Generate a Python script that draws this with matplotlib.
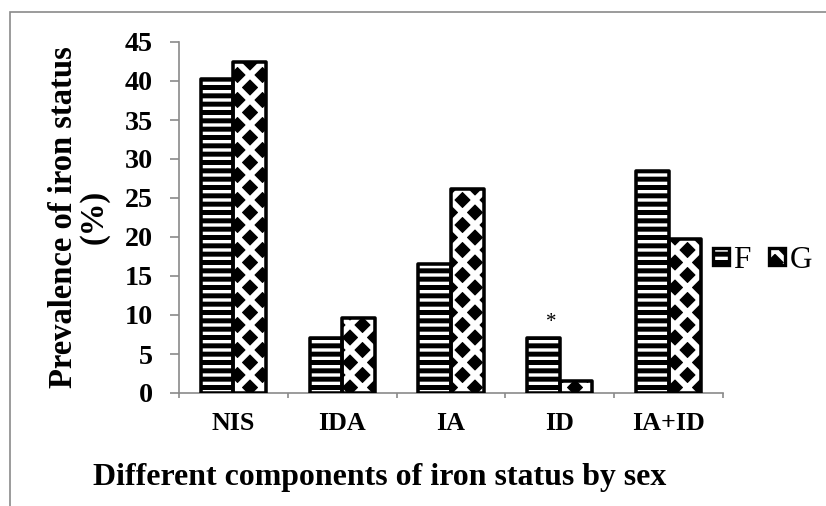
import matplotlib
matplotlib.use('Agg')
import matplotlib.pyplot as plt
from matplotlib.patches import Patch, Rectangle
from matplotlib.legend_handler import HandlerTuple
import numpy as np

# values
categories = ['NIS', 'IDA', 'IA', 'ID', 'IA+ID']
f_values = [40.3, 7.0, 16.5, 7.0, 28.5]
g_values = [42.4, 9.6, 26.1, 1.5, 19.7]
y_ticks = [0, 5, 10, 15, 20, 25, 30, 35, 40, 45]
star_category = 'ID'
star_height = 9.0

DPI = 150
W, H = 826, 506
plt.rcParams['font.family'] = ['Liberation Serif', 'DejaVu Serif']
plt.rcParams['hatch.linewidth'] = 2.4

fig = plt.figure(figsize=(W / DPI, H / DPI), dpi=DPI)
ax = fig.add_axes([179 / W, 1 - 393 / H, 544 / W, 351 / H])

gray = '#8a8a8a'
x = np.arange(len(categories))
w = 0.3
edge_lw = 1.7

f_bars = ax.bar(x - w / 2, f_values, w, color='white', edgecolor='black',
                hatch='---', linewidth=edge_lw, joinstyle='round', zorder=3)
g_fill = ax.bar(x + w / 2, g_values, w, color='black', edgecolor='white',
                hatch='xx', linewidth=0, zorder=2)
g_edge = ax.bar(x + w / 2, g_values, w, fill=False, edgecolor='black',
                linewidth=edge_lw, joinstyle='round', zorder=3)

for b in f_bars:
    if hasattr(b, 'set_hatch_linewidth'):
        b.set_hatch_linewidth(2.4)
for b in g_fill:
    if hasattr(b, 'set_hatch_linewidth'):
        b.set_hatch_linewidth(2.9)

# asterisk above the ID bar
ax.text(categories.index(star_category) - w / 2 + 0.075, star_height, '*',
        ha='center', va='center', fontsize=10)

ax.set_xlim(-0.5, len(categories) - 0.5)
ax.set_ylim(0, 45)
ax.set_yticks(y_ticks)
ax.set_xticks(x, categories)
ax.set_xticks(np.arange(-0.5, len(categories)), minor=True)

for s in ['top', 'right']:
    ax.spines[s].set_visible(False)
for s in ['left', 'bottom']:
    ax.spines[s].set_color(gray)
    ax.spines[s].set_linewidth(0.8)

ax.tick_params(axis='x', which='major', length=0, pad=9, labelsize=12.5)
ax.tick_params(axis='x', which='minor', length=2.6, width=0.8, color=gray)
ax.tick_params(axis='y', length=4.5, width=0.8, color=gray, pad=8, labelsize=13.5)
for lab in ax.get_xticklabels() + ax.get_yticklabels():
    lab.set_fontweight('bold')

fig.text(79 / W, 1 - 217 / H, 'Prevalence of iron status\n(%)', rotation=90,
         ha='center', va='center', fontsize=15.7, fontweight='bold',
         linespacing=1.0, multialignment='center')
fig.text(380 / W, 1 - 478 / H, 'Different components of iron status by sex',
         ha='center', va='center', fontsize=15.3, fontweight='bold')

# legend
f_proxy = Patch(facecolor='white', edgecolor='black', hatch='---', linewidth=1.6)
g_proxy_fill = Patch(facecolor='black', edgecolor='white', hatch='xx', linewidth=0)
g_proxy_edge = Patch(fill=False, edgecolor='black', linewidth=1.6)
ax.legend([f_proxy, (g_proxy_fill, g_proxy_edge)], ['F', 'G'],
          handler_map={tuple: HandlerTuple(ndivide=1)},
          loc='center left', bbox_to_anchor=(713 / W, 1 - 260 / H),
          bbox_transform=fig.transFigure, ncol=2, frameon=False,
          handlelength=0.5, handleheight=0.5, handletextpad=0.15,
          columnspacing=0.6, borderaxespad=0, borderpad=0, fontsize=15)

# outer border of the chart area
fig.patches.append(Rectangle((10 / W, -0.1), 2, 1 - 12 / H + 0.1,
                             transform=fig.transFigure, fill=False,
                             edgecolor=gray, linewidth=0.8, figure=fig))

fig.savefig('out.png', dpi=DPI)
